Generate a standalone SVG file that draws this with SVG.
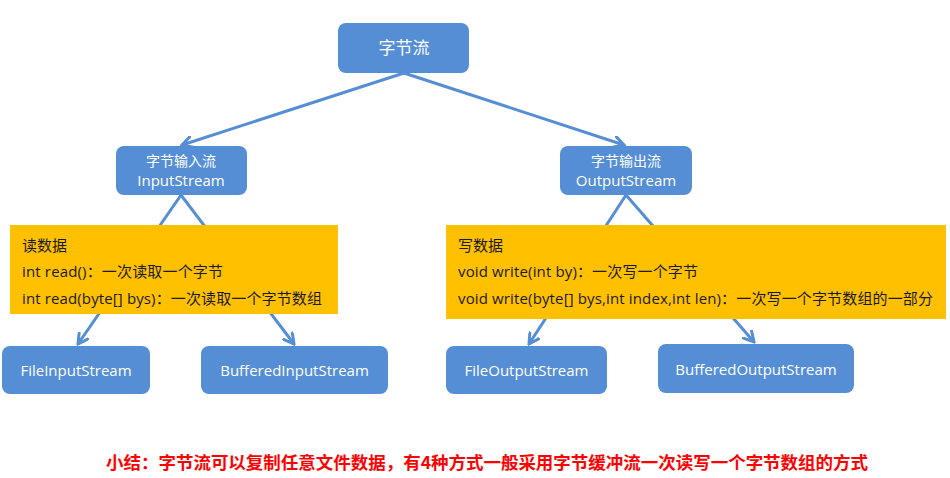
<svg xmlns="http://www.w3.org/2000/svg" width="950" height="478" viewBox="0 0 950 478">
<defs>
<style>
.node rect{fill:#558ED5;}
.node text{fill:#fff;font-family:"Open Sans","Noto Sans CJK SC",sans-serif;text-anchor:middle;}
.box rect{fill:#FFC000;}
.box text{fill:#1a1a1a;font-family:"Open Sans","Noto Sans CJK SC",sans-serif;font-size:15px;}
.conn line{stroke:#558ED5;stroke-width:3;fill:none;}
.summary{fill:#FF0000;font-family:"Noto Sans CJK SC",sans-serif;font-weight:bold;font-size:17px;}
</style>
<marker id="arr" viewBox="0 0 13 13" refX="11" refY="6.5" markerWidth="13" markerHeight="13" markerUnits="userSpaceOnUse" orient="auto">
<path d="M1,1 L11,6.5 L1,12" fill="none" stroke="#558ED5" stroke-width="3" stroke-linecap="round" stroke-linejoin="miter"/>
</marker>
</defs>
<rect width="950" height="478" fill="#fff"/>
<g id="connectors" class="conn">
<line x1="404" y1="73" x2="182" y2="145" marker-end="url(#arr)"/>
<line x1="404" y1="73" x2="624" y2="145" marker-end="url(#arr)"/>
<line x1="181" y1="195" x2="78" y2="344" marker-end="url(#arr)"/>
<line x1="181" y1="195" x2="294" y2="344" marker-end="url(#arr)"/>
<line x1="626" y1="195" x2="529" y2="344" marker-end="url(#arr)"/>
<line x1="626" y1="195" x2="754" y2="342" marker-end="url(#arr)"/>
</g>
<g id="read-box" class="box">
<rect x="10" y="225" width="328" height="89"/>
<text x="22" y="251">读数据</text>
<text x="22" y="277" textLength="201" lengthAdjust="spacing">int read()：一次读取一个字节</text>
<text x="22" y="304" textLength="300" lengthAdjust="spacing">int read(byte[] bys)：一次读取一个字节数组</text>
</g>
<g id="write-box" class="box">
<rect x="446" y="225" width="500" height="94"/>
<text x="458" y="251">写数据</text>
<text x="458" y="277" textLength="240" lengthAdjust="spacing">void write(int by)：一次写一个字节</text>
<text x="458" y="304" textLength="475" lengthAdjust="spacing">void write(byte[] bys,int index,int len)：一次写一个字节数组的一部分</text>
</g>
<g id="byte-stream" class="node">
<rect x="338" y="23" width="131" height="50" rx="8"/>
<text x="404" y="54" font-size="17">字节流</text>
</g>
<g id="input-stream" class="node">
<rect x="116" y="146" width="131" height="49" rx="8"/>
<text x="181" y="166" font-size="14">字节输入流</text>
<text x="181" y="186" font-size="15">InputStream</text>
</g>
<g id="output-stream" class="node">
<rect x="560" y="146" width="132" height="49" rx="8"/>
<text x="626" y="166" font-size="14">字节输出流</text>
<text x="626" y="186" font-size="15">OutputStream</text>
</g>
<g id="file-input-stream" class="node">
<rect x="2" y="346" width="148" height="48" rx="8"/>
<text x="76" y="376" font-size="15">FileInputStream</text>
</g>
<g id="buffered-input-stream" class="node">
<rect x="201" y="346" width="187" height="48" rx="8"/>
<text x="294.5" y="376" font-size="15">BufferedInputStream</text>
</g>
<g id="file-output-stream" class="node">
<rect x="446" y="346" width="161" height="48" rx="8"/>
<text x="526.5" y="376" font-size="15">FileOutputStream</text>
</g>
<g id="buffered-output-stream" class="node">
<rect x="658" y="344" width="196" height="49" rx="8"/>
<text x="756" y="375" font-size="15">BufferedOutputStream</text>
</g>
<text class="summary" x="106" y="469" textLength="762" lengthAdjust="spacingAndGlyphs">小结：字节流可以复制任意文件数据，有4种方式一般采用字节缓冲流一次读写一个字节数组的方式</text>
</svg>
